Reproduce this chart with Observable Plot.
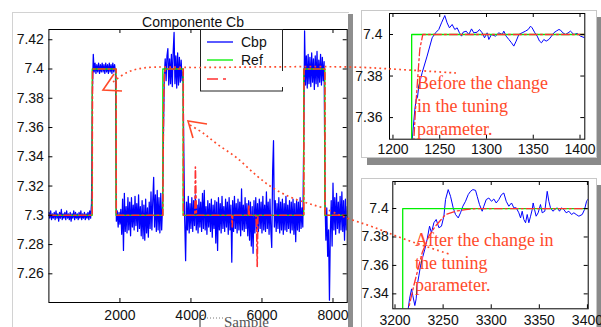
<!DOCTYPE html>
<html><head><meta charset="utf-8">
<script src="https://cdn.jsdelivr.net/npm/d3@7"></script>
<script src="https://cdn.jsdelivr.net/npm/@observablehq/plot@0.6"></script>
<style>
html,body{margin:0;padding:0;background:#fff;}
body{width:601px;height:327px;position:relative;overflow:hidden;font-family:"Liberation Sans",Arial,sans-serif;}
.abs{position:absolute;}
</style></head><body>
<script>
// ---------------- DATA ----------------
const sampleStep = 25; // Cbp sampled every 25 samples for the overview
const cbpMain = [
7.302,7.298,7.303,7.297,7.301,7.298,7.302,7.297,7.303,7.298,
7.301,7.296,7.302,7.298,7.304,7.297,7.301,7.298,7.302,7.297,
7.303,7.298,7.301,7.297,7.302,7.296,7.301,7.298,7.303,7.297,
7.302,7.298,7.301,7.297,7.302,7.298,7.303,7.297,7.301,7.298,
7.302,7.297,7.301,7.298,7.302,7.297,7.303,7.298,7.308,
7.385,
7.41,7.398,7.404,7.397,7.403,7.398,7.404,7.397,7.403,7.398,
7.404,7.398,7.403,7.397,7.404,7.398,7.403,7.397,7.404,7.398,
7.403,7.397,7.404,7.398,7.403,7.398,
7.296,7.303,7.292,7.302,7.294,7.304,7.287,7.311,7.276,7.315,
7.289,7.306,7.288,7.312,7.29,7.309,7.286,7.312,7.292,7.307,
7.29,7.313,7.293,7.308,7.289,7.314,7.291,7.306,7.286,7.31,
7.284,7.307,7.283,7.311,7.288,7.305,7.285,7.309,7.291,7.316,
7.29,7.31,7.326,7.292,7.314,7.289,7.317,7.29,7.312,7.288,
7.315,7.29,7.306,
7.355,7.395,
7.407,7.392,7.409,7.414,7.389,7.407,7.39,7.41,7.388,7.412,
7.425,7.39,7.409,7.387,7.411,7.389,7.408,7.391,7.406,7.392,
7.398,
7.342,
7.296,7.269,7.309,7.29,7.313,7.288,7.308,7.291,7.312,7.289,
7.31,7.293,7.314,7.29,7.307,7.288,7.311,7.292,7.309,7.289,
7.315,7.291,7.317,7.29,7.306,7.287,7.31,7.292,7.308,7.289,
7.311,7.285,7.307,7.291,7.31,7.281,7.309,7.276,7.312,7.29,
7.308,7.288,7.313,7.291,7.306,7.289,7.311,7.292,7.309,7.287,
7.312,7.29,7.307,7.268,7.31,7.289,7.313,7.291,7.308,7.288,
7.311,7.29,7.309,7.286,7.318,7.29,7.307,7.289,7.312,7.291,
7.308,7.286,7.31,7.283,7.309,7.279,7.306,7.274,7.31,7.288,
7.312,7.29,7.308,7.289,7.311,7.291,7.309,7.288,7.313,7.29,
7.307,7.289,7.316,7.291,7.309,7.287,7.311,7.29,7.278,7.33,
7.351,7.292,7.31,7.289,7.308,7.291,7.312,7.288,7.309,7.29,
7.311,7.287,7.308,7.29,7.313,7.289,7.307,7.291,7.31,7.288,
7.309,7.29,7.311,7.287,7.308,7.282,7.31,7.29,7.309,7.289,
7.312,7.291,7.305,
7.292,7.35,
7.426,7.389,7.409,7.387,7.41,7.39,7.408,7.388,7.411,7.391,
7.407,7.386,7.409,7.39,7.412,7.388,7.406,7.391,7.41,7.389,
7.408,7.392,7.405,
7.31,7.283,7.305,7.272,7.29,7.242,7.288,7.31,7.279,7.322,
7.29,7.312,7.287,7.315,7.291,7.309,7.288,7.313,7.29,7.316,
7.289,7.31,7.283,7.311,7.29,7.306
];
// Reference (step changes)
const refT = [0,1220,1890,3208,3780,7175,7770,8400];
const refV = [7.3,7.4,7.3,7.4,7.3,7.4,7.3,7.3];
// Third (red dash-dot) series
const cbT = [0,1220,1222.3,1224.1,1226.6,1228.7,1231.9,1893,1897,3209,3214,3219.5,3223,3228.3,3235.2,3242,3252.5,3263,3273.3,3283.7,3783,3788,4110,4125,4140,4155,5150,5162,5175,5615,5629,5645,5830,5850,5866,5885,7178,7184,7773,7778,8400];
const cbV = [7.3,7.3,7.349,7.364,7.38,7.393,7.4,7.4,7.3,7.3,7.3295,7.3457,7.355,7.369,7.3806,7.3876,7.3958,7.3981,7.3993,7.4,7.4,7.3,7.3,7.333,7.315,7.3,7.3,7.292,7.3,7.3,7.307,7.3,7.3,7.29,7.265,7.3,7.3,7.4,7.4,7.3,7.3];
// Cbp detail, first zoom (before the change)
const zoom1T = [1219,1220.5,1223.4,1224.8,1226.2,1227.6,1231.2,1236.5,1241.9,1245.5,1249,1251.9,1255.4,1257.9,1260.4,1263.3,1266.1,1268.6,1271.1,1273.3,1275,1278.3,1281.1,1284,1286.4,1290,1292.5,1295.4,1297.9,1300.7,1302.5,1305.3,1309.6,1313.2,1316.8,1318.5,1321,1323.9,1326.7,1329.2,1331.7,1334.6,1338.1,1341.7,1344.6,1347.1,1348.8,1351.7,1354.2,1356.7,1358.8,1361.3,1363.8,1366.7,1369.5,1372,1374.5,1377.4,1379.1,1381.6,1384.5,1387.3,1389.8,1393.4,1397,1400.5,1405.2];
const zoom1V = [7.31,7.349,7.364,7.3688,7.3696,7.3752,7.3816,7.3896,7.3984,7.4008,7.4024,7.4056,7.4091,7.4056,7.4032,7.4048,7.4024,7.4032,7.4008,7.3992,7.4011,7.4016,7.4,7.4027,7.4008,7.4011,7.4024,7.4008,7.3984,7.4008,7.3976,7.4,7.3992,7.4008,7.4,7.4016,7.3992,7.3976,7.396,7.3944,7.3968,7.4,7.4008,7.4016,7.4024,7.404,7.4032,7.4008,7.3992,7.3968,7.396,7.3976,7.3968,7.3976,7.3992,7.4008,7.4016,7.4024,7.4021,7.4008,7.4,7.4008,7.4016,7.4,7.4005,7.3992,7.3984];
// Cbp detail, second zoom (after the change)
const zoom2T = [3210,3213.7,3215.1,3217.2,3218.5,3220.6,3222,3223,3224.8,3226.5,3228.2,3231,3233.4,3235.9,3237.9,3240.4,3242.8,3245.6,3248.3,3250.8,3252.5,3255.3,3257.7,3260.5,3262.9,3265.7,3268.1,3270.5,3273.3,3276.1,3278.5,3280.9,3283.7,3285.4,3287.8,3290.6,3292.3,3294.8,3297.5,3300.3,3302.7,3305.2,3307.9,3310.7,3313.1,3315.6,3318.3,3321.1,3323.5,3326,3328.7,3330.5,3332.2,3333.9,3335.7,3337.4,3339.1,3340.9,3342.6,3343.6,3345,3346.7,3348.8,3351.2,3353,3355.7,3358.2,3359.9,3361.6,3364.1,3366.1,3368.6,3371,3373.1,3375.5,3377.9,3380.7,3383.5,3385.9,3388.3,3391.1,3394.6,3397,3399.1,3401];
const zoom2V = [7.30,7.3295,7.3365,7.3435,7.3388,7.3318,7.3365,7.3458,7.3527,7.3597,7.3644,7.3714,7.3784,7.3876,7.383,7.39,7.3923,7.3865,7.3876,7.3946,7.4063,7.4133,7.4086,7.4004,7.3958,7.3934,7.397,7.4016,7.4051,7.4098,7.4121,7.4133,7.4128,7.4086,7.4028,7.3981,7.4016,7.4063,7.4074,7.4051,7.4067,7.4039,7.4063,7.4098,7.4109,7.4051,7.4016,7.4039,7.4005,7.4005,7.397,7.3934,7.3981,7.3923,7.39,7.3958,7.39,7.3946,7.3993,7.4039,7.3993,7.3946,7.397,7.4028,7.397,7.3981,7.4121,7.4051,7.4005,7.3981,7.3993,7.4005,7.3981,7.4005,7.3993,7.397,7.3981,7.3958,7.397,7.3958,7.3946,7.3958,7.3993,7.4051,7.407];
// Ticks
const mainXTicks = [2000,4000,6000,8000];
const mainYTicks = [7.26,7.28,7.3,7.32,7.34,7.36,7.38,7.4,7.42];
const zoom1XTicks = [1200,1250,1300,1350,1400];
const zoom1YTicks = [7.36,7.38,7.4];
const zoom2XTicks = [3200,3250,3300,3350,3400];
const zoom2YTicks = [7.34,7.36,7.38,7.4];
// Text
const mainTitle = "Componente Cb";
const xLabel = "Sample";
const legendNames = ["Cbp","Ref"];
const noteBefore = ["Before the change","in the tuning","parameter."];
const noteAfter = ["After the change in","the tuning","parameter."];

// ---------------- BUILD ----------------
const COL = {blue:"#0000ff", green:"#00f000", red:"#ff3030", note:"#ff4a2a"};
const blueMain = cbpMain.map((v,i)=>({t:i*sampleStep, v}));
const ref = refT.map((t,i)=>({t, v:refV[i]}));
const cb = cbT.map((t,i)=>({t, v:cbV[i]}));
const z1 = zoom1T.map((t,i)=>({t, v:zoom1V[i]}));
const z2 = zoom2T.map((t,i)=>({t, v:zoom2V[i]}));

function box(style){const d=document.createElement("div");d.className="abs";Object.assign(d.style,style);document.body.appendChild(d);return d;}

// panels
box({left:"12px",top:"12px",width:"336px",height:"330px",borderLeft:"1px solid #d2d2d2",borderTop:"1px solid #d2d2d2"});
box({left:"348px",top:"14px",width:"5px",height:"313px",background:"#8e8e8e"});
box({left:"361px",top:"10px",width:"234px",height:"146px",border:"1px solid #c8c8c8",background:"#fff",boxShadow:"6px 7px 0 #8a8a8a"});
box({left:"361px",top:"178px",width:"234px",height:"170px",border:"1px solid #c8c8c8",background:"#fff",boxShadow:"6px 7px 0 #8a8a8a"});

function chart({w,h,ml,mr,mt,mb,xDomain,yDomain,xTicks,yTicks,blue,blueW,xPad,yPad,redW,dash,tick}){
  const pw=w-ml-mr, ph=h-mt-mb;
  return Plot.plot({
    width:w,height:h,marginLeft:ml,marginRight:mr,marginTop:mt,marginBottom:mb,
    style:{background:"transparent",fontFamily:"'Liberation Sans',Arial,sans-serif",fontSize:"14px",color:"#111",overflow:"visible"},
    x:{domain:xDomain,ticks:xTicks,tickSize:0,tickPadding:xPad,label:null,tickFormat:d=>String(d)},
    y:{domain:yDomain,ticks:yTicks,tickSize:0,tickPadding:yPad,label:null,tickFormat:d=>String(d)},
    marks:[
      Plot.line(blue,{x:"t",y:"v",stroke:COL.blue,strokeWidth:blueW,clip:true}),
      Plot.line(ref,{x:"t",y:"v",curve:"step-after",stroke:COL.green,strokeWidth:1.3,clip:true}),
      Plot.line(cb,{x:"t",y:"v",stroke:COL.red,strokeWidth:redW,strokeDasharray:dash,clip:true}),
      Plot.frame({stroke:"#000"}),
      Plot.tickX(xTicks,{x:d=>d,insetTop:ph-tick,stroke:"#000"}),
      Plot.tickX(xTicks,{x:d=>d,insetBottom:ph-tick,stroke:"#000"}),
      Plot.tickY(yTicks,{y:d=>d,insetRight:pw-tick,stroke:"#000"}),
      Plot.tickY(yTicks,{y:d=>d,insetLeft:pw-tick,stroke:"#000"})
    ]
  });
}
function place(el,left,top){el.style.position="absolute";el.style.left=left+"px";el.style.top=top+"px";document.body.appendChild(el);}

place(chart({w:350,h:327,ml:48.4,mr:3.3,mt:29,mb:25,xDomain:[0,8400],yDomain:[7.2404,7.427],
  xTicks:mainXTicks,yTicks:mainYTicks,blue:blueMain,blueW:1.25,xPad:8,yPad:5,redW:1.6,dash:"7,3,2,3",tick:4}),0,0);
place(chart({w:261,h:165,ml:49,mr:16.7,mt:13,mb:26.3,xDomain:[1196.3,1405.1],yDomain:[7.3496,7.4101],
  xTicks:zoom1XTicks,yTicks:zoom1YTicks,blue:z1,blueW:1,xPad:5,yPad:7,redW:1.3,dash:"8,3,2,3",tick:4}),340,0);
place(chart({w:261,h:162,ml:52.3,mr:13.3,mt:16,mb:18.7,xDomain:[3197.7,3400.8],yDomain:[7.3295,7.419],
  xTicks:zoom2XTicks,yTicks:zoom2YTicks,blue:z2,blueW:1,xPad:6,yPad:4,redW:1.3,dash:"8,3,2,3",tick:4}),340,165);

// overlay: title, axis label, legend, annotations
const ov = d3.select("body").append("svg").attr("width",601).attr("height",327)
  .style("position","absolute").style("left","0px").style("top","0px").style("overflow","hidden");
ov.append("text").attr("x",193).attr("y",27).attr("text-anchor","middle")
  .attr("font-family","'Liberation Sans',Arial,sans-serif").attr("font-size",14).attr("fill","#111").text(mainTitle);
// x label
ov.append("line").attr("x1",204).attr("x2",223).attr("y1",318).attr("y2",318).attr("stroke","#777").attr("stroke-dasharray","1,2");
ov.append("path").attr("d","M200,327 V317 Q201,315 204,315").attr("fill","none").attr("stroke","#333").attr("stroke-width",1);
ov.append("text").attr("x",224).attr("y",327).attr("font-family","'Liberation Serif','Times New Roman',serif")
  .attr("font-size",15).attr("fill","#555").text(xLabel);
// legend
const lg = ov.append("g");
lg.append("rect").attr("x",200.5).attr("y",29.5).attr("width",82).attr("height",61.5).attr("fill","#fff").attr("stroke","#222");
const legCols=[COL.blue,COL.green,COL.red], legY=[42,60,79];
legCols.forEach((c,i)=>{
  lg.append("line").attr("x1",207).attr("x2",233).attr("y1",legY[i]).attr("y2",legY[i]).attr("stroke",c)
    .attr("stroke-width",i==2?1.6:1.3).attr("stroke-dasharray",i==2?"11,5,3,20":null);
});
legendNames.forEach((n,i)=>{
  lg.append("text").attr("x",241).attr("y",legY[i]+5).attr("font-family","'Liberation Sans',Arial,sans-serif")
    .attr("font-size",14).attr("fill","#111").text(n);
});
lg.append("rect").attr("x",236).attr("y",71).attr("width",54).attr("height",16).attr("fill","#fff");

// annotations
const curve = d3.line().curve(d3.curveCatmullRom);
const dotted = {stroke:COL.note,"stroke-width":1.7,"stroke-dasharray":"1.8,3.2",fill:"none"};
function styl(sel,o){for(const k in o) sel.attr(k,o[k]);return sel;}
styl(ov.append("path").attr("d",curve([[113,82],[126,73],[143,68],[200,67.5],[350,67],[400,69.5],[456,73]])),dotted);
styl(ov.append("path").attr("d",curve([[190,125],[203,133],[217,144],[237,158],[257,176],[273,188],[290,197],[307,203],[323,208],[347,218],[373,227],[407,240],[449,254]])),dotted);
ov.append("path").attr("d","M114,74 L103,90 L122,91").attr("fill","none").attr("stroke",COL.note).attr("stroke-width",1.6);
ov.append("path").attr("d","M207,124 L188,121 L193,138").attr("fill","none").attr("stroke",COL.note).attr("stroke-width",1.6);
function note(lines,x,ys){
  lines.forEach((s,i)=>ov.append("text").attr("x",x).attr("y",ys[i]).attr("font-family","'Liberation Serif','Times New Roman',serif")
    .attr("font-size",18).attr("fill",COL.note).text(s));
}
note(noteBefore,417,[89,112,135]);
note(noteAfter,415,[246,269,291]);
</script>
</body></html>
